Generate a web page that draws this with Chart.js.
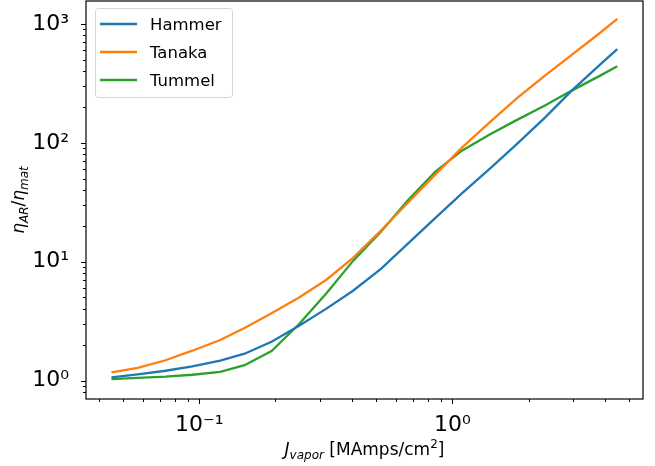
<!DOCTYPE html>
<html lang="en">
<head>
<meta charset="UTF-8">
<title>eta_AR / eta_mat vs J_vapor</title>
<script src="https://cdn.jsdelivr.net/npm/chart.js"></script>
<style>
  body { margin: 0; background: #fff; }
</style>
</head>
<body>
<canvas id="myChart" width="655" height="466"></canvas>
<script>
// current density [MAmps/cm^2]
const jVapor = [0.045, 0.0571, 0.0736, 0.0939, 0.121, 0.151, 0.193, 0.247, 0.318, 0.405,
                0.522, 0.667, 0.857, 1.09, 1.41, 1.80, 2.32, 2.96, 3.80, 4.48];
const hammer = [1.063, 1.127, 1.210, 1.317, 1.475, 1.684, 2.118, 2.88, 4.03, 5.70,
                8.71, 14.2, 23.4, 37.6, 61.1, 97.9, 163, 275, 449, 615];
const tanaka = [1.171, 1.279, 1.483, 1.784, 2.196, 2.77, 3.69, 4.98, 7.05, 10.76,
                18.26, 31.3, 54.1, 91.0, 150.1, 238, 367, 550, 831, 1104];
const tummel = [1.029, 1.053, 1.080, 1.120, 1.184, 1.347, 1.774, 2.965, 5.42, 10.16,
                17.9, 32.8, 57.4, 85.9, 118, 156, 206, 275, 364, 441];

const seriesNames = ['Hammer', 'Tanaka', 'Tummel'];
const seriesColors = ['#1f77b4', '#ff7f0e', '#2ca02c'];

// tick marks and labels
const xTickValues = [0.04, 0.05, 0.06, 0.07, 0.08, 0.09,
                     0.1, 0.2, 0.3, 0.4, 0.5, 0.6, 0.7, 0.8, 0.9,
                     1, 2, 3, 4, 5];
const xLabelValues = [0.1, 1];
const xLabelTexts = ['10⁻¹', '10⁰'];
const yTickValues = [0.8, 0.9,
                     1, 2, 3, 4, 5, 6, 7, 8, 9,
                     10, 20, 30, 40, 50, 60, 70, 80, 90,
                     100, 200, 300, 400, 500, 600, 700, 800, 900, 1000];
const yLabelValues = [1, 10, 100, 1000];
const yLabelTexts = ['10⁰', '10¹', '10²', '10³'];

const FONT = "'DejaVu Sans', sans-serif";

function isDecade(v) {
    const l = Math.log10(v);
    return Math.abs(l - Math.round(l)) < 1e-9;
}

// draw a run of [text, size, italic, dy] pieces, centred on 0
function drawPieces(ctx, pieces) {
    let total = 0;
    pieces.forEach(p => {
        ctx.font = (p[2] ? 'italic ' : '') + p[1] + 'px ' + FONT;
        total += ctx.measureText(p[0]).width;
    });
    let x = -total / 2;
    pieces.forEach(p => {
        ctx.font = (p[2] ? 'italic ' : '') + p[1] + 'px ' + FONT;
        ctx.fillText(p[0], x, p[3]);
        x += ctx.measureText(p[0]).width;
    });
}

const decor = {
    id: 'decor',
    afterDraw(chart) {
        const ctx = chart.ctx;
        const a = chart.chartArea;
        const xs = chart.scales.x, ys = chart.scales.y;
        ctx.save();
        ctx.strokeStyle = '#000';
        ctx.fillStyle = '#000';

        // tick marks, outward like matplotlib
        ctx.lineWidth = 1;
        ctx.beginPath();
        xs.ticks.forEach(t => {
            const px = Math.round(xs.getPixelForValue(t.value)) + 0.5;
            const len = isDecade(t.value) ? 5 : 3;
            ctx.moveTo(px, a.bottom);
            ctx.lineTo(px, a.bottom + len);
        });
        ys.ticks.forEach(t => {
            const py = Math.round(ys.getPixelForValue(t.value)) + 0.5;
            const len = isDecade(t.value) ? 5 : 3;
            ctx.moveTo(a.left, py);
            ctx.lineTo(a.left - len, py);
        });
        ctx.stroke();

        // axes frame
        ctx.lineWidth = 1.2;
        ctx.strokeRect(a.left, a.top, a.right - a.left, a.bottom - a.top);

        // axis titles
        ctx.textBaseline = 'alphabetic';
        ctx.textAlign = 'left';
        ctx.save();
        ctx.translate((a.left + a.right) / 2, 455);
        drawPieces(ctx, [['J', 17, true, 0], ['vapor', 12, true, 4], [' [MAmps/cm', 17, false, 0],
                         ['2', 12, false, -7], [']', 17, false, 0]]);
        ctx.restore();
        ctx.save();
        ctx.translate(24, (a.top + a.bottom) / 2);
        ctx.rotate(-Math.PI / 2);
        drawPieces(ctx, [['η', 17, true, 0], ['AR', 12, true, 4], ['/', 17, false, 0],
                         ['η', 17, true, 0], ['mat', 12, true, 4]]);
        ctx.restore();

        // legend
        const lx = a.left + 9, ly = a.top + 7, lw = 137, lh = 89;
        ctx.beginPath();
        ctx.roundRect(lx + 0.5, ly + 0.5, lw, lh, 3);
        ctx.fillStyle = 'rgba(255,255,255,0.8)';
        ctx.fill();
        ctx.strokeStyle = '#d6d6d6';
        ctx.lineWidth = 1;
        ctx.stroke();
        ctx.font = '16.5px ' + FONT;
        chart.data.datasets.forEach((ds, i) => {
            const cy = ly + 16 + 28 * i;
            ctx.strokeStyle = ds.borderColor;
            ctx.lineWidth = 2.3;
            ctx.beginPath();
            ctx.moveTo(lx + 5, cy);
            ctx.lineTo(lx + 42, cy);
            ctx.stroke();
            ctx.fillStyle = '#000';
            ctx.fillText(ds.label, lx + 55, cy + 6);
        });
        ctx.restore();
    }
};

const datasets = [hammer, tanaka, tummel].map((vals, i) => ({
    label: seriesNames[i],
    data: jVapor.map((x, k) => ({ x: x, y: vals[k] })),
    borderColor: seriesColors[i],
    borderWidth: 2.3,
    pointRadius: 0,
    tension: 0,
    fill: false
}));

const tickFont = { family: FONT, size: 22 };

var myChart = new Chart(document.getElementById('myChart'), {
    type: 'line',
    data: { datasets: datasets },
    plugins: [decor],
    options: {
        responsive: false,
        animation: false,
        layout: { padding: { top: 1, right: 12, left: 0, bottom: 0 } },
        plugins: { legend: { display: false }, tooltip: { enabled: false } },
        scales: {
            x: {
                type: 'logarithmic',
                min: 0.0357,
                max: 5.66,
                afterBuildTicks: s => { s.ticks = xTickValues.map(v => ({ value: v })); },
                afterFit: s => { s.height = 67; s.paddingLeft = 0; s.paddingRight = 0; },
                grid: { display: false },
                border: { display: false },
                ticks: {
                    autoSkip: false, maxRotation: 0, minRotation: 0, padding: 5,
                    color: '#000', font: tickFont,
                    callback: v => { const k = xLabelValues.indexOf(v); return k < 0 ? '' : xLabelTexts[k]; }
                }
            },
            y: {
                type: 'logarithmic',
                min: 0.73,
                max: 1560,
                afterBuildTicks: s => { s.ticks = yTickValues.map(v => ({ value: v })); },
                afterFit: s => { s.width = 86; s.paddingTop = 0; s.paddingBottom = 0; },
                grid: { display: false },
                border: { display: false },
                ticks: {
                    autoSkip: false, padding: 9,
                    color: '#000', font: tickFont,
                    callback: v => { const k = yLabelValues.indexOf(v); return k < 0 ? '' : yLabelTexts[k]; }
                }
            }
        }
    }
});
</script>
</body>
</html>
